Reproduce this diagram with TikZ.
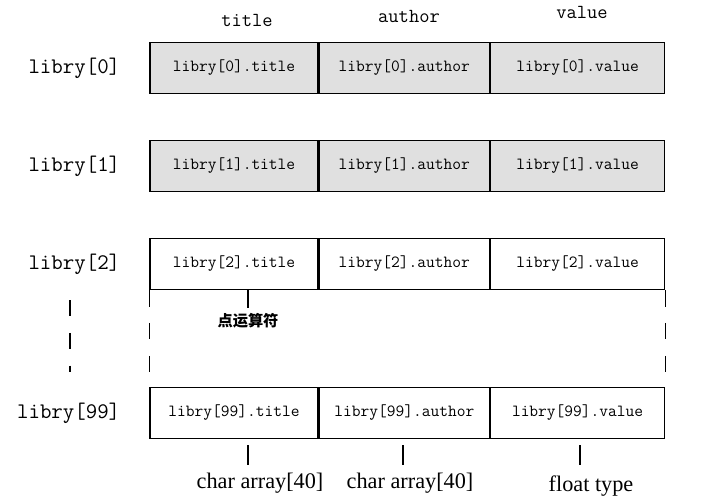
\documentclass[tikz,border=0pt]{standalone}
\usepackage{fontspec}
\setmainfont{Liberation Serif}
\newfontfamily\cjk{Noto Sans CJK SC}
\usetikzlibrary{positioning}
\tikzset{
  cell/.style={rectangle, draw, line width=1.1pt, minimum height=1.53cm, inner sep=0pt, font=\ttfamily\fontsize{14.5}{16}\selectfont},
  rowlabel/.style={font=\ttfamily\fontsize{19}{21}\selectfont},
  colhead/.style={font=\ttfamily\fontsize{17}{19}\selectfont},
  note/.style={font=\fontsize{19}{21}\selectfont}
}
\begin{document}
\begin{tikzpicture}[x=0.03cm, y=-0.03cm]
  \useasboundingbox (0,0) rectangle (707,500);
  % header
  \node[colhead] (htitle) at (247,20) {title};
  \node[colhead] (hauthor) at (409,16) {author};
  \node[colhead] (hvalue) at (582,12) {value};
  % rows
  \foreach \i/\y/\f in {0/68/black!12, 1/166/black!12, 2/264/white, 99/413/white}{
    \node[cell, fill=\f, minimum width=5.04cm] (r\i t) at (234,\y) {libry[\i].title};
    \node[cell, fill=\f, minimum width=5.1cm, right=0pt of r\i t] (r\i a) {libry[\i].author};
    \node[cell, fill=\f, minimum width=5.22cm, right=0pt of r\i a] (r\i v) {libry[\i].value};
    \node[rowlabel, left=0.75cm of r\i t] (l\i) {libry[\i]};
  }
  % gap between row 2 and row 99
  \draw[line width=0.9pt, dash pattern=on 14pt off 14pt] (r2t.south west) -- (r99t.north west);
  \draw[line width=0.9pt, dash pattern=on 14pt off 14pt] (r2v.south east) -- (r99v.north east);
  \coordinate (d1) at (70,300);
  \coordinate (d2) at (70,372);
  \draw[line width=0.9pt, dash pattern=on 14pt off 14pt] (d1) -- (d2);
  % dot operator
  \coordinate (dt) at (248,308);
  \draw[line width=0.9pt] (248,290) -- (dt);
  \node[font=\cjk\bfseries\fontsize{13}{15}\selectfont, below=1pt of dt] (dot) {点运算符};
  % types
  \coordinate (b1) at (248,465);
  \coordinate (b2) at (403,465);
  \coordinate (b3) at (580,465);
  \draw[line width=0.9pt] (248,445) -- (b1);
  \draw[line width=0.9pt] (403,445) -- (b2);
  \draw[line width=0.9pt] (580,445) -- (b3);
  \node[note] (t1) at (260,483) {char array[40]};
  \node[note] (t2) at (410,483) {char array[40]};
  \node[note] (t3) at (591,486) {float type};
\end{tikzpicture}
\end{document}
